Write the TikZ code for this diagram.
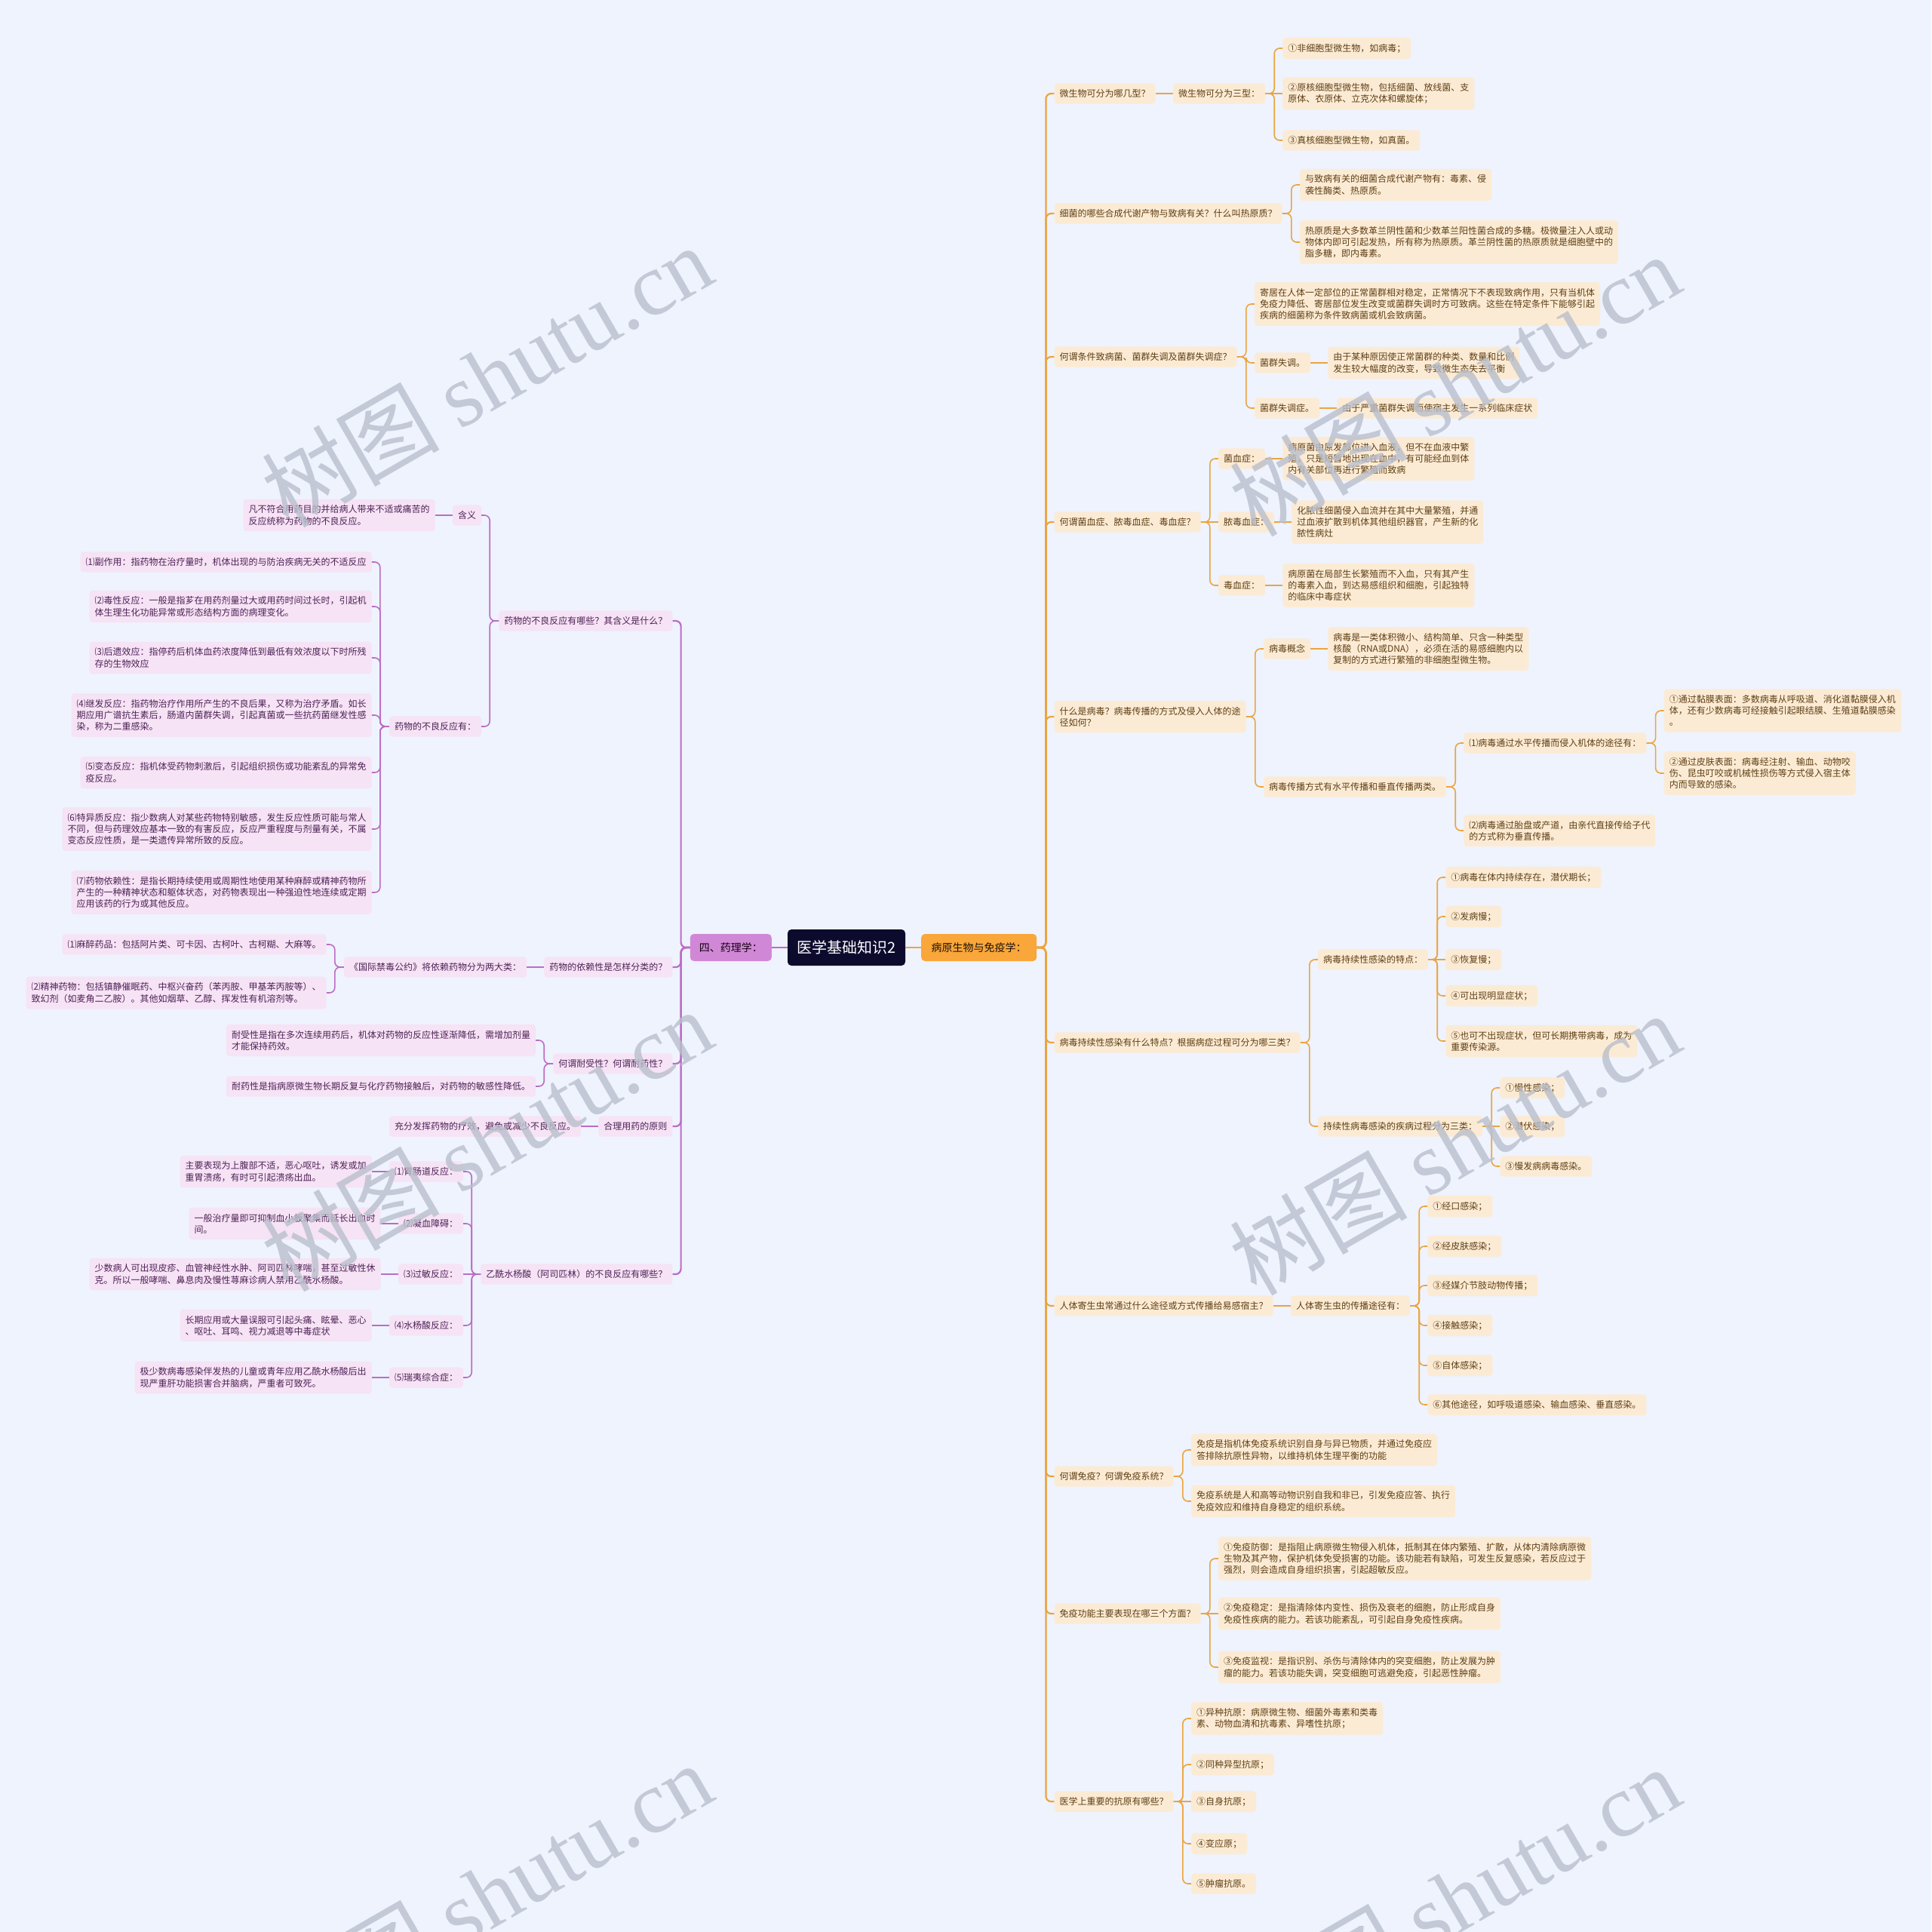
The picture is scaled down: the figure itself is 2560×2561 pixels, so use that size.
\documentclass[tikz,border=0pt]{standalone}
\usepackage{fontspec}
\setmainfont{Noto Sans CJK SC}
\newfontfamily\wmlatin{Liberation Serif}
\usetikzlibrary{calc}
\definecolor{bgc}{HTML}{EEF3FE}
\definecolor{rlinec}{HTML}{EBA440}
\definecolor{rfill}{HTML}{FCEBD4}
\definecolor{rtext}{HTML}{5E3F16}
\definecolor{rmain}{HTML}{F9A63A}
\definecolor{llinec}{HTML}{BC6CC4}
\definecolor{lfill}{HTML}{F6E3F5}
\definecolor{ltext}{HTML}{4E2256}
\definecolor{lmain}{HTML}{D088D6}
\definecolor{ctr}{HTML}{0D0B2D}
\definecolor{wmc}{HTML}{B9BFCC}
\newcommand\fs{\fontsize{12}{15.2}\selectfont}
\tikzset{
 rbox/.style={fill=rfill, text=rtext, rounded corners=4pt, inner xsep=7pt, inner ysep=8pt, align=left, font=\fs, anchor=west},
 lbox/.style={fill=lfill, text=ltext, rounded corners=4pt, inner xsep=7pt, inner ysep=8pt, align=left, font=\fs, anchor=east},
 rcon/.style={draw=rlinec, line width=1.6pt, rounded corners=7pt},
 lcon/.style={draw=llinec, line width=1.6pt, rounded corners=7pt},
 wmark/.style={text=wmc, rotate=30, opacity=0.8, font=\fontsize{118}{120}\selectfont},
}
% child at its own height, joined by a bent connector
\newcommand\RN[4]{\path (#2.east) ++(23,0) coordinate (tmp); \node[rbox] (#1) at (tmp |- 0,#3) {#4}; \draw[rcon] (#2.east) -- ++(12,0) |- (#1.west);}
\newcommand\LN[4]{\path (#2.west) ++(-23,0) coordinate (tmp); \node[lbox] (#1) at (tmp |- 0,#3) {#4}; \draw[lcon] (#2.west) -- ++(-12,0) |- (#1.east);}
% child level with its parent, joined by a straight connector
\newcommand\RS[3]{\path (#2.east) ++(23,0) coordinate (tmp); \node[rbox] (#1) at (tmp) {#3}; \draw[rcon] (#2.east) -- (#1.west);}
\newcommand\LS[3]{\path (#2.west) ++(-23,0) coordinate (tmp); \node[lbox] (#1) at (tmp) {#3}; \draw[lcon] (#2.west) -- (#1.east);}
\begin{document}
\begin{tikzpicture}[x=1pt,y=-1pt]
\fill[bgc] (0,0) rectangle (2560,2561);
\useasboundingbox (0,0) rectangle (2560,2561);

\node[fill=ctr, text=white, rounded corners=5pt, font=\fontsize{20}{24}\selectfont, minimum width=156pt, minimum height=48pt] (c) at (1122,1256) {医学基础知识2};
\node[fill=lmain, text=black!85!violet, rounded corners=5pt, font=\fontsize{14}{17}\selectfont, minimum width=108pt, minimum height=36pt, anchor=east] (lm) at (1023,1256) {四、药理学：};
\node[fill=rmain, text=black!85!brown, rounded corners=5pt, font=\fontsize{14}{17}\selectfont, minimum width=153pt, minimum height=36pt, anchor=west] (rm) at (1221,1256) {病原生物与免疫学：};
\draw[lcon, line width=2.4pt] (c.west) -- (lm.east);
\draw[rcon, line width=2.4pt] (c.east) -- (rm.west);

% ---------------- right side ----------------
\begin{scope}[rcon/.append style={line width=2.2pt}]
\RN{r1}{rm}{124}{微生物可分为哪几型？}
\RN{r2}{rm}{283}{细菌的哪些合成代谢产物与致病有关？什么叫热原质？}
\RN{r3}{rm}{473}{何谓条件致病菌、菌群失调及菌群失调症？}
\RN{r4}{rm}{692}{何谓菌血症、脓毒血症、毒血症？}
\RN{r5}{rm}{950}{什么是病毒？病毒传播的方式及侵入人体的途\\径如何？}
\RN{r6}{rm}{1382}{病毒持续性感染有什么特点？根据病症过程可分为哪三类？}
\RN{r7}{rm}{1731}{人体寄生虫常通过什么途径或方式传播给易感宿主？}
\RN{r8}{rm}{1957}{何谓免疫？何谓免疫系统？}
\RN{r9}{rm}{2139}{免疫功能主要表现在哪三个方面？}
\RN{r10}{rm}{2388}{医学上重要的抗原有哪些？}
\end{scope}

\RS{r1a}{r1}{微生物可分为三型：}
\RN{r1a1}{r1a}{64}{①非细胞型微生物，如病毒；}
\RS{r1a2}{r1a}{②原核细胞型微生物，包括细菌、放线菌、支\\原体、衣原体、立克次体和螺旋体；}
\RN{r1a3}{r1a}{186}{③真核细胞型微生物，如真菌。}

\RN{r2a}{r2}{245}{与致病有关的细菌合成代谢产物有：毒素、侵\\袭性酶类、热原质。}
\RN{r2b}{r2}{321}{热原质是大多数革兰阴性菌和少数革兰阳性菌合成的多糖。极微量注入人或动\\物体内即可引起发热，所有称为热原质。革兰阴性菌的热原质就是细胞壁中的\\脂多糖，即内毒素。}

\RN{r3a}{r3}{403}{寄居在人体一定部位的正常菌群相对稳定，正常情况下不表现致病作用，只有当机体\\免疫力降低、寄居部位发生改变或菌群失调时方可致病。这些在特定条件下能够引起\\疾病的细菌称为条件致病菌或机会致病菌。}
\RN{r3b}{r3}{481}{菌群失调。}
\RS{r3b1}{r3b}{由于某种原因使正常菌群的种类、数量和比例\\发生较大幅度的改变，导致微生态失去平衡}
\RN{r3c}{r3}{541}{菌群失调症。}
\RS{r3c1}{r3c}{由于严重菌群失调而使宿主发生一系列临床症状}

\RN{r4a}{r4}{608}{菌血症：}
\RS{r4a1}{r4a}{病原菌由原发部位进入血液，但不在血液中繁\\殖，只是短暂地出现在血中，有可能经血到体\\内有关部位再进行繁殖而致病}
\RS{r4b}{r4}{脓毒血症：}
\RS{r4b1}{r4b}{化脓性细菌侵入血流并在其中大量繁殖，并通\\过血液扩散到机体其他组织器官，产生新的化\\脓性病灶}
\RN{r4c}{r4}{776}{毒血症：}
\RS{r4c1}{r4c}{病原菌在局部生长繁殖而不入血，只有其产生\\的毒素入血，到达易感组织和细胞，引起独特\\的临床中毒症状}

\RN{r5a}{r5}{860}{病毒概念}
\RS{r5a1}{r5a}{病毒是一类体积微小、结构简单、只含一种类型\\核酸（RNA或DNA），必须在活的易感细胞内以\\复制的方式进行繁殖的非细胞型微生物。}
\RN{r5b}{r5}{1043}{病毒传播方式有水平传播和垂直传播两类。}
\RN{r5b1}{r5b}{985}{⑴病毒通过水平传播而侵入机体的途径有：}
\RN{r5b1a}{r5b1}{942}{①通过黏膜表面：多数病毒从呼吸道、消化道黏膜侵入机\\体，还有少数病毒可经接触引起眼结膜、生殖道黏膜感染\\。}
\RN{r5b1b}{r5b1}{1025}{②通过皮肤表面：病毒经注射、输血、动物咬\\伤、昆虫叮咬或机械性损伤等方式侵入宿主体\\内而导致的感染。}
\RN{r5b2}{r5b}{1101}{⑵病毒通过胎盘或产道，由亲代直接传给子代\\的方式称为垂直传播。}

\RN{r6a}{r6}{1272}{病毒持续性感染的特点：}
\RN{r6a1}{r6a}{1163}{①病毒在体内持续存在，潜伏期长；}
\RN{r6a2}{r6a}{1215}{②发病慢；}
\RS{r6a3}{r6a}{③恢复慢；}
\RN{r6a4}{r6a}{1320}{④可出现明显症状；}
\RN{r6a5}{r6a}{1380}{⑤也可不出现症状，但可长期携带病毒，成为\\重要传染源。}
\RN{r6b}{r6}{1493}{持续性病毒感染的疾病过程分为三类：}
\RN{r6b1}{r6b}{1442}{①慢性感染；}
\RS{r6b2}{r6b}{②潜伏感染；}
\RN{r6b3}{r6b}{1546}{③慢发病病毒感染。}

\RS{r7a}{r7}{人体寄生虫的传播途径有：}
\RN{r7a1}{r7a}{1599}{①经口感染；}
\RN{r7a2}{r7a}{1652}{②经皮肤感染；}
\RN{r7a3}{r7a}{1704}{③经媒介节肢动物传播；}
\RN{r7a4}{r7a}{1757}{④接触感染；}
\RN{r7a5}{r7a}{1810}{⑤自体感染；}
\RN{r7a6}{r7a}{1862}{⑥其他途径，如呼吸道感染、输血感染、垂直感染。}

\RN{r8a}{r8}{1922}{免疫是指机体免疫系统识别自身与异已物质，并通过免疫应\\答排除抗原性异物，以维持机体生理平衡的功能}
\RN{r8b}{r8}{1990}{免疫系统是人和高等动物识别自我和非已，引发免疫应答、执行\\免疫效应和维持自身稳定的组织系统。}

\RN{r9a}{r9}{2066}{①免疫防御：是指阻止病原微生物侵入机体，抵制其在体内繁殖、扩散，从体内清除病原微\\生物及其产物，保护机体免受损害的功能。该功能若有缺陷，可发生反复感染，若反应过于\\强烈，则会造成自身组织损害，引起超敏反应。}
\RS{r9b}{r9}{②免疫稳定：是指清除体内变性、损伤及衰老的细胞，防止形成自身\\免疫性疾病的能力。若该功能紊乱，可引起自身免疫性疾病。}
\RN{r9c}{r9}{2210}{③免疫监视：是指识别、杀伤与清除体内的突变细胞，防止发展为肿\\瘤的能力。若该功能失调，突变细胞可逃避免疫，引起恶性肿瘤。}

\RN{r10a}{r10}{2278}{①异种抗原：病原微生物、细菌外毒素和类毒\\素、动物血清和抗毒素、异嗜性抗原；}
\RN{r10b}{r10}{2339}{②同种异型抗原；}
\RS{r10c}{r10}{③自身抗原；}
\RN{r10d}{r10}{2444}{④变应原；}
\RN{r10e}{r10}{2497}{⑤肿瘤抗原。}

% ---------------- left side ----------------
\begin{scope}[lcon/.append style={line width=2.2pt}]
\LN{l1}{lm}{823}{药物的不良反应有哪些？其含义是什么？}
\LN{l2}{lm}{1282}{药物的依赖性是怎样分类的？}
\LN{l3}{lm}{1410}{何谓耐受性？何谓耐药性？}
\LN{l4}{lm}{1493}{合理用药的原则}
\LN{l5}{lm}{1689}{乙酰水杨酸（阿司匹林）的不良反应有哪些？}
\end{scope}

\LN{l1a}{l1}{683}{含义}
\LS{l1a1}{l1a}{凡不符合用药目的并给病人带来不适或痛苦的\\反应统称为药物的不良反应。}
\LN{l1b}{l1}{963}{药物的不良反应有：}
\LN{l1b1}{l1b}{745}{⑴副作用：指药物在治疗量时，机体出现的与防治疾病无关的不适反应}
\LN{l1b2}{l1b}{804}{⑵毒性反应：一般是指芗在用药剂量过大或用药时间过长时，引起机\\体生理生化功能异常或形态结构方面的病理变化。}
\LN{l1b3}{l1b}{872}{⑶后遗效应：指停药后机体血药浓度降低到最低有效浓度以下时所残\\存的生物效应}
\LN{l1b4}{l1b}{948}{⑷继发反应：指药物治疗作用所产生的不良后果，又称为治疗矛盾。如长\\期应用广谱抗生素后，肠道内菌群失调，引起真菌或一些抗药菌继发性感\\染，称为二重感染。}
\LN{l1b5}{l1b}{1024}{⑸变态反应：指机体受药物刺激后，引起组织损伤或功能紊乱的异常免\\疫反应。}
\LN{l1b6}{l1b}{1099}{⑹特异质反应：指少数病人对某些药物特别敏感，发生反应性质可能与常人\\不同，但与药理效应基本一致的有害反应，反应严重程度与剂量有关，不属\\变态反应性质，是一类遗传异常所致的反应。}
\LN{l1b7}{l1b}{1183}{⑺药物依赖性：是指长期持续使用或周期性地使用某种麻醉或精神药物所\\产生的一种精神状态和躯体状态，对药物表现出一种强迫性地连续或定期\\应用该药的行为或其他反应。}

\LS{l2a}{l2}{《国际禁毒公约》将依赖药物分为两大类：}
\LN{l2a1}{l2a}{1252}{⑴麻醉药品：包括阿片类、可卡因、古柯叶、古柯糊、大麻等。}
\LN{l2a2}{l2a}{1316}{⑵精神药物：包括镇静催眠药、中枢兴奋药（苯丙胺、甲基苯丙胺等）、\\致幻剂（如麦角二乙胺）。其他如烟草、乙醇、挥发性有机溶剂等。}

\LN{l3a}{l3}{1379}{耐受性是指在多次连续用药后，机体对药物的反应性逐渐降低，需增加剂量\\才能保持药效。}
\LN{l3b}{l3}{1440}{耐药性是指病原微生物长期反复与化疗药物接触后，对药物的敏感性降低。}

\LS{l4a}{l4}{充分发挥药物的疗效，避免或减少不良反应。}

\LN{l5a}{l5}{1553}{⑴胃肠道反应：}
\LS{l5a1}{l5a}{主要表现为上腹部不适，恶心呕吐，诱发或加\\重胃溃疡，有时可引起溃疡出血。}
\LN{l5b}{l5}{1622}{⑵凝血障碍：}
\LS{l5b1}{l5b}{一般治疗量即可抑制血小板聚集而延长出血时\\间。}
\LS{l5c}{l5}{⑶过敏反应：}
\LS{l5c1}{l5c}{少数病人可出现皮疹、血管神经性水肿、阿司匹林哮喘，甚至过敏性休\\克。所以一般哮喘、鼻息肉及慢性荨麻诊病人禁用乙酰水杨酸。}
\LN{l5d}{l5}{1757}{⑷水杨酸反应：}
\LS{l5d1}{l5d}{长期应用或大量误服可引起头痛、眩晕、恶心\\、呕吐、耳鸣、视力减退等中毒症状}
\LN{l5e}{l5}{1826}{⑸瑞夷综合症：}
\LS{l5e1}{l5e}{极少数病毒感染伴发热的儿童或青年应用乙酰水杨酸后出\\现严重肝功能损害合并脑病，严重者可致死。}

% ---------------- watermarks ----------------
\foreach \wx/\wy [count=\i] in {645/498, 1928/510, 645/1511, 1928/1516, 645/2510, 1928/2515}
  \node[wmark] (wm\i) at (\wx,\wy) {树图 {\wmlatin shutu.cn}};
\end{tikzpicture}
\end{document}
